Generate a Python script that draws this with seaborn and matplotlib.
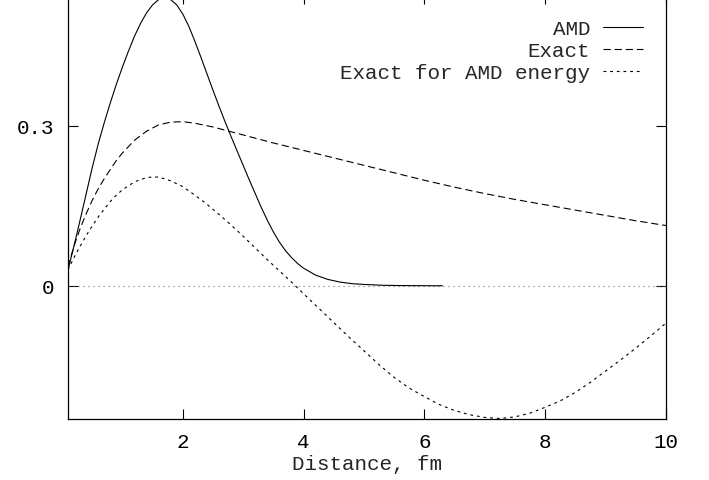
import matplotlib
matplotlib.use("Agg")
import matplotlib.pyplot as plt
import seaborn as sns

# Values
r_amd = [0.1, 0.2, 0.3, 0.4, 0.5, 0.6, 0.7, 0.8, 0.9, 1.0, 1.1, 1.2, 1.3, 1.4, 1.5, 1.6,
         1.7, 1.8, 1.9, 2.0, 2.1, 2.2, 2.3, 2.4, 2.5, 2.6, 2.7, 2.8, 2.9, 3.0, 3.1, 3.2,
         3.3, 3.4, 3.5, 3.6, 3.7, 3.8, 3.9, 4.0, 4.2, 4.4, 4.6, 4.8, 5.0, 5.3, 5.6, 6.0, 6.3]
amd = [0.030, 0.075, 0.123, 0.172, 0.221, 0.266, 0.306, 0.343, 0.378, 0.410, 0.440, 0.468,
       0.492, 0.512, 0.527, 0.537, 0.541, 0.537, 0.527, 0.510, 0.487, 0.459, 0.429, 0.398,
       0.367, 0.337, 0.308, 0.280, 0.253, 0.226, 0.199, 0.173, 0.147, 0.123, 0.101, 0.082,
       0.066, 0.053, 0.042, 0.033, 0.020, 0.012, 0.007, 0.004, 0.0025, 0.001, 0.0004,
       0.0001, 0.0]

r_exact = [0.1, 0.2, 0.3, 0.4, 0.5, 0.6, 0.7, 0.8, 0.9, 1.0, 1.2, 1.4, 1.6, 1.8, 2.0, 2.2,
           2.5, 3.0, 3.5, 4.0, 4.5, 5.0, 5.5, 6.0, 6.5, 7.0, 7.5, 8.0, 8.5, 9.0, 9.5, 10.0]
exact = [0.035, 0.075, 0.107, 0.135, 0.160, 0.182, 0.201, 0.218, 0.235, 0.249, 0.273,
         0.290, 0.302, 0.307, 0.308, 0.305, 0.298, 0.283, 0.268, 0.254, 0.240, 0.226,
         0.212, 0.198, 0.185, 0.173, 0.162, 0.152, 0.142, 0.132, 0.122, 0.113]

r_energy = [0.1, 0.2, 0.3, 0.4, 0.5, 0.6, 0.7, 0.8, 0.9, 1.0, 1.2, 1.4, 1.5, 1.6, 1.8, 2.0,
            2.2, 2.4, 2.6, 2.8, 3.0, 3.2, 3.4, 3.6, 3.8, 4.0, 4.25, 4.5, 4.75, 5.0, 5.25,
            5.5, 5.75, 6.0, 6.25, 6.5, 6.75, 7.0, 7.25, 7.5, 7.75, 8.0, 8.25, 8.5, 8.75,
            9.0, 9.25, 9.5, 9.75, 10.0]
energy = [0.030, 0.053, 0.074, 0.094, 0.112, 0.129, 0.144, 0.158, 0.170, 0.180, 0.195,
          0.203, 0.204, 0.204, 0.197, 0.186, 0.170, 0.153, 0.134, 0.114, 0.093, 0.071,
          0.049, 0.028, 0.007, -0.015, -0.042, -0.069, -0.096, -0.122, -0.148, -0.172,
          -0.192, -0.208, -0.223, -0.234, -0.242, -0.247, -0.249, -0.246, -0.239, -0.228,
          -0.216, -0.200, -0.181, -0.160, -0.139, -0.117, -0.094, -0.070]

labels = ["AMD", "Exact", "Exact for AMD energy"]
x_ticks = [2, 4, 6, 8, 10]
y_ticks = [0, 0.3]

sns.set_style("ticks")
plt.rcParams['font.family'] = ['Liberation Mono', 'DejaVu Sans']
plt.rcParams['font.size'] = 15

fig = plt.figure(figsize=(7.09, 4.81), dpi=100)
ax = fig.add_axes([0.0959, 0.1268, 0.8434, 0.8836])

# gnuplot-style zero axis
ax.axhline(0, color='0.45', lw=0.8, linestyle=(0, (1, 3.5)), zorder=1)

sns.lineplot(x=r_amd, y=amd, ax=ax, color='black', lw=0.8, label=labels[0])
sns.lineplot(x=r_exact, y=exact, ax=ax, color='black', lw=0.8,
             linestyle=(0, (6.5, 3.5)), label=labels[1])
sns.lineplot(x=r_energy, y=energy, ax=ax, color='black', lw=0.8,
             linestyle=(0, (2.5, 3.5)), label=labels[2])

ax.set_xlim(0.1, 10)
ax.set_ylim(-0.25, 0.5475)
ax.set_xticks(x_ticks)
ax.set_xticklabels([str(t) for t in x_ticks])
ax.set_yticks(y_ticks)
ax.set_yticklabels(["0", "0.3"])
ax.tick_params(direction='in', length=7.2, width=0.8, top=True, right=True,
               colors='black', labelsize=15)
ax.tick_params(axis='x', pad=9.5)
ax.tick_params(axis='y', pad=10)
for s in ax.spines.values():
    s.set_linewidth(0.9)
    s.set_color('black')

ax.set_xlabel('Distance, fm', fontsize=15, labelpad=2)
ax.set_ylabel('')

ax.legend(loc='upper right', bbox_to_anchor=(0.9615, 0.941), markerfirst=False,
          frameon=False, handlelength=1.92, handletextpad=0.62, labelspacing=0.15,
          borderaxespad=0, borderpad=0, fontsize=15)

fig.savefig('out.png', dpi=100)
